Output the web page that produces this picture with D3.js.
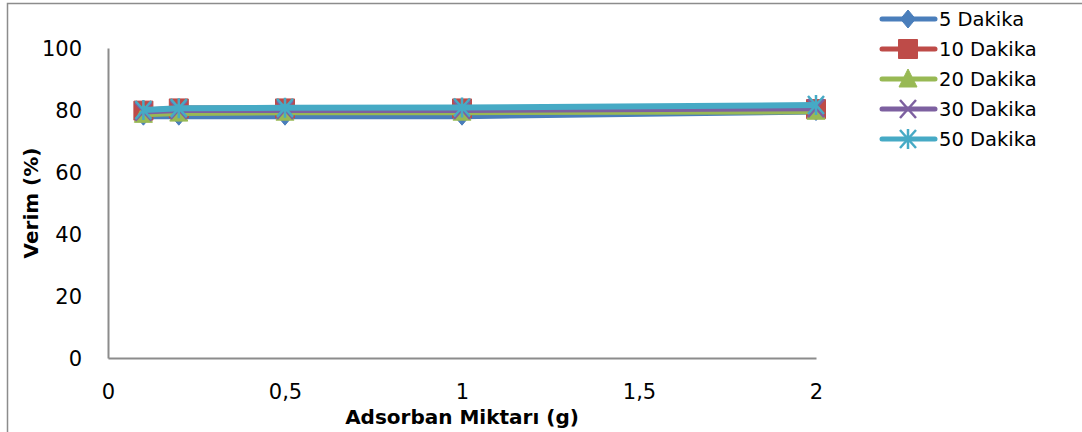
<!DOCTYPE html>
<html>
<head>
<meta charset="utf-8">
<script src="https://cdn.jsdelivr.net/npm/d3@7"></script>
<style>
  body { margin: 0; background: #fff; }
  text { font-family: "DejaVu Sans", sans-serif; fill: #000; }
</style>
</head>
<body>
<div id="chart"></div>
<script>
// veri
var xValues = [0.1, 0.2, 0.5, 1, 2];
var seriesNames = ["5 Dakika", "10 Dakika", "20 Dakika", "30 Dakika", "50 Dakika"];
var v5  = [78.0, 78.0, 78.0, 78.0, 79.5];
var v10 = [79.8, 80.5, 80.5, 80.5, 80.3];
var v20 = [78.6, 79.0, 79.3, 79.3, 79.6];
var v30 = [79.5, 80.0, 80.0, 80.0, 80.6];
var v50 = [80.0, 80.6, 80.7, 80.8, 81.6];
var xTicks = [0, 0.5, 1, 1.5, 2];
var xTickLabels = ["0", "0,5", "1", "1,5", "2"];
var yTicks = [0, 20, 40, 60, 80, 100];

var colors = ["#4a7ebb", "#be4b48", "#98b954", "#7d60a0", "#46aac5"];
var markers = ["diamond", "square", "triangle", "cross", "star"];
var allValues = [v5, v10, v20, v30, v50];

var width = 1082, height = 432;
var margin = {top: 48, left: 108, right: 266, bottom: 74};

var svg = d3.select("#chart").append("svg")
    .attr("width", width)
    .attr("height", height);

// dis cerceve
svg.append("rect")
    .attr("x", 7.5).attr("y", 3.5)
    .attr("width", 1090).attr("height", 440)
    .attr("fill", "none")
    .attr("stroke", "#8c8c8c")
    .attr("stroke-width", 1.5);

var x = d3.scaleLinear().domain([0, 2]).range([margin.left, width - margin.right]);
var y = d3.scaleLinear().domain([0, 100]).range([height - margin.bottom, margin.top]);

// eksenler
svg.append("g")
    .attr("transform", "translate(0," + y(0) + ")")
    .call(d3.axisBottom(x).tickValues(xTicks).tickSize(0).tickFormat(function (d, i) { return xTickLabels[i]; }))
    .call(function (g) {
        g.select(".domain").attr("stroke", "#8c8c8c").attr("stroke-width", 2);
        g.selectAll("text").attr("dy", 0).attr("y", 41).style("font-size", "21px")
            .style("font-family", "'DejaVu Sans', sans-serif").attr("fill", "#000");
    });

svg.append("g")
    .attr("transform", "translate(" + x(0) + ",0)")
    .call(d3.axisLeft(y).tickValues(yTicks).tickSize(0))
    .call(function (g) {
        g.select(".domain").attr("stroke", "#8c8c8c").attr("stroke-width", 2);
        g.selectAll("text").attr("x", -26).attr("dy", "0.36em").style("font-size", "21px")
            .style("font-family", "'DejaVu Sans', sans-serif").attr("fill", "#000");
    });

// eksen basliklari
svg.append("text")
    .attr("x", x(1)).attr("y", 424)
    .attr("text-anchor", "middle")
    .style("font-size", "20px").style("font-weight", "bold")
    .text("Adsorban Miktarı (g)");

svg.append("text")
    .attr("transform", "translate(38," + y(50) + ") rotate(-90)")
    .attr("text-anchor", "middle")
    .style("font-size", "20px").style("font-weight", "bold")
    .text("Verim (%)");

function markerPath(type) {
    if (type == "diamond") return "M0,-9L7.5,0L0,9L-7.5,0Z";
    if (type == "square") return "M-9.5,-9.5H9.5V9.5H-9.5Z";
    if (type == "triangle") return "M0,-10L9,8H-9Z";
    if (type == "cross") return "M-8,-9L8,9M-8,9L8,-9";
    return "M-8,-9L8,9M-8,9L8,-9M0,-10V10";
}

function drawMarker(g, type, color) {
    var p = g.append("path").attr("d", markerPath(type));
    if (type == "cross" || type == "star") {
        p.attr("fill", "none").attr("stroke", color).attr("stroke-width", 2.5);
    } else {
        p.attr("fill", color).attr("stroke", color).attr("stroke-width", 1);
    }
}

var line = d3.line()
    .x(function (d) { return x(d[0]); })
    .y(function (d) { return y(d[1]); });

// seriler
allValues.forEach(function (vals, si) {
    var pts = xValues.map(function (xv, i) { return [xv, vals[i]]; });
    svg.append("path")
        .datum(pts)
        .attr("d", line)
        .attr("fill", "none")
        .attr("stroke", colors[si])
        .attr("stroke-width", 6)
        .attr("stroke-linejoin", "round");
    pts.forEach(function (p) {
        var g = svg.append("g").attr("transform", "translate(" + x(p[0]) + "," + y(p[1]) + ")");
        drawMarker(g, markers[si], colors[si]);
    });
});

// legend
var legend = svg.append("g").attr("transform", "translate(880,19)");
seriesNames.forEach(function (name, i) {
    var row = legend.append("g").attr("transform", "translate(0," + (i * 30) + ")");
    row.append("line")
        .attr("x1", 2).attr("x2", 55)
        .attr("stroke", colors[i])
        .attr("stroke-width", 5)
        .attr("stroke-linecap", "round");
    var m = row.append("g").attr("transform", "translate(28,0)");
    drawMarker(m, markers[i], colors[i]);
    row.append("text")
        .attr("x", 59).attr("dy", "0.36em")
        .style("font-size", "19.5px")
        .text(name);
});
</script>
</body>
</html>
